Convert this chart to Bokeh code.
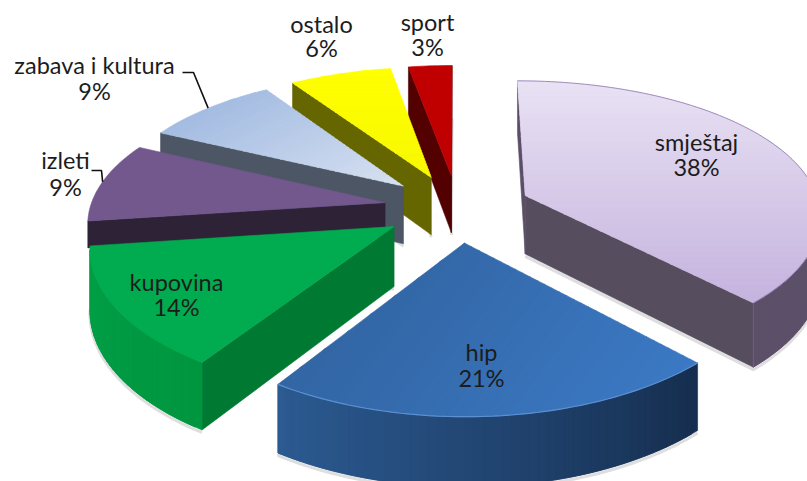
import math
from bokeh.plotting import figure
from bokeh.models import ColumnDataSource, Range1d
from bokeh.core.properties import value
from bokeh.embed import file_html
from bokeh.resources import INLINE

# ---- data (shares; labels show them rounded)
CATEGORIES = ["smještaj", "hip", "kupovina", "izleti", "zabava i kultura", "ostalo", "sport"]
SHARES = [38, 21.3, 13.7, 9.4, 8.6, 6.45, 2.75]

# ---- projection of the exploded 3-D pie
CX, CY = 457.0, 207.5
RX, RY = 295.0, 135.6
PERSPECTIVE_X = 0.13
PERSPECTIVE_Y = 0.151
EXPLODE = 0.25
DEPTH = 59.0
STEP = 1.5

# top gradient (colour a, colour b, direction), wall colours (start, end), cut face colours (start edge, end edge)
STYLE = {
    "smještaj": dict(top=("#E9E2F4", "#C5B3DE", (0, 1)), wall=("#5C5069", "#5C5069"), cut=("#5A4F66", "#564D5E"), depth=1.0),
    "hip": dict(top=("#3265A3", "#3B79C4", (0.8, 0.6)), wall=("#162E4F", "#2C5B92"), cut=("#1A3560", "#1A3560"), depth=1.0),
    "kupovina": dict(top=("#00AC4F", "#00AC4F", (0, 1)), wall=("#00963F", "#00A048"), cut=("#007A33", "#007A33"), depth=1.0),
    "izleti": dict(top=("#72588D", "#72588D", (0, 1)), wall=("#4A3760", "#4A3760"), cut=("#2E2237", "#2E2237"), depth=0.45),
    "zabava i kultura": dict(top=("#A4BCE2", "#D7E1F1", (0.45, 0.9)), wall=("#4D5766", "#4D5766"), cut=("#4C5665", "#5B6068"), depth=1.0),
    "ostalo": dict(top=("#FFFF00", "#F8F800", (0, 1)), wall=("#666600", "#666600"), cut=("#666600", "#666600"), depth=1.0),
    "sport": dict(top=("#C00000", "#C00000", (0, 1)), wall=("#520000", "#520000"), cut=("#520000", "#520000"), depth=1.0),
}
# label centres (x, y of first line, y of second line)
LABEL_AT = {
    "smještaj": (696, 141, 166),
    "hip": (481, 351, 377),
    "kupovina": (176, 281, 306),
    "izleti": (65, 159, 186),
    "zabava i kultura": (94, 64, 90),
    "ostalo": (321, 23, 47),
    "sport": (427, 21, 46),
}
LEADERS = {"zabava i kultura": (182, 193), "izleti": (91, 101)}
LEADER_Y = {"zabava i kultura": 72, "izleti": 170}
FONT = "Lato"
FONT_SIZE = "23.5px"
TEXT_COLOR = "#1C1C1C"


def project(X, Y, z=0.0):
    px = 1.0 / (1.0 + PERSPECTIVE_X * Y)
    py = 1.0 / (1.0 + PERSPECTIVE_Y * Y)
    return CX + RX * X * px, CY - RY * Y * py + DEPTH * z * px


def hex2rgb(c):
    return tuple(int(c[i:i + 2], 16) for i in (1, 3, 5))


def mix(c0, c1, t):
    a, b = hex2rgb(c0), hex2rgb(c1)
    return "#%02X%02X%02X" % tuple(round(a[i] + (b[i] - a[i]) * t) for i in range(3))


def clip(poly, d, t0, keep_above):
    out = []
    n = len(poly)
    for i in range(n):
        a, b = poly[i], poly[(i + 1) % n]
        fa = a[0] * d[0] + a[1] * d[1] - t0
        fb = b[0] * d[0] + b[1] * d[1] - t0
        if not keep_above:
            fa, fb = -fa, -fb
        if fa >= 0:
            out.append(a)
        if (fa >= 0) != (fb >= 0):
            s = fa / (fa - fb)
            out.append((a[0] + (b[0] - a[0]) * s, a[1] + (b[1] - a[1]) * s))
    return out


xs, ys, fills = [], [], []
shadow_x, shadow_y = [], []
hi_x, hi_y, hi_c, hi_w = [], [], [], []


def add_patch(poly, color):
    xs.append([q[0] for q in poly])
    ys.append([q[1] for q in poly])
    fills.append(color)


def add_gradient(poly, c0, c1, d, bands=40):
    norm = math.hypot(*d)
    d = (d[0] / norm, d[1] / norm)
    ts = [q[0] * d[0] + q[1] * d[1] for q in poly]
    lo, hi = min(ts), max(ts)
    if c0 == c1:
        add_patch(poly, c0)
        return
    for i in range(bands):
        a = lo + (hi - lo) * i / bands
        b = lo + (hi - lo) * (i + 1) / bands
        piece = clip(clip(poly, d, a - 0.4, True), d, b + 0.4, False)
        if len(piece) >= 3:
            add_patch(piece, mix(c0, c1, (i + 0.5) / bands))


# ---- build slices from the shares
total = sum(SHARES)
angles = []
acc = 0.0
for v in SHARES:
    angles.append((acc * 360 / total, (acc + v) * 360 / total))
    acc += v

geom = {}
for name, (a0, a1) in zip(CATEGORIES, angles):
    m = math.radians((a0 + a1) / 2)
    geom[name] = (a0, a1, EXPLODE * math.sin(m), EXPLODE * math.cos(m))


def rim(name, deg):
    _, _, ox, oy = geom[name]
    t = math.radians(deg)
    return ox + math.sin(t), oy + math.cos(t)


# painter's order: back slices first
ORDER = ["sport", "ostalo", "zabava i kultura", "izleti", "kupovina", "hip", "smještaj"]
for name in ORDER:
    a0, a1, ox, oy = geom[name]
    st = STYLE[name]
    dz = st["depth"]
    n = max(2, int((a1 - a0) / STEP))
    deg = [a0 + (a1 - a0) * i / n for i in range(n + 1)]
    pts = [rim(name, d) for d in deg]
    top = [project(ox, oy)] + [project(*q) for q in pts]
    apex_t, apex_b = project(ox, oy), project(ox, oy, dz)

    # soft shadow along the lower edge of the solid
    bottom = [project(*q, dz) for q in pts]
    if dz == 1.0:
        shadow_x.append([q[0] for q in bottom] + [apex_b[0]])
        shadow_y.append([q[1] + 2.5 for q in bottom] + [apex_b[1] + 2.5])

    # start cut face
    r0_t, r0_b = project(*pts[0]), project(*pts[0], dz)
    if r0_t[0] < apex_t[0]:
        add_patch([apex_t, r0_t, r0_b, apex_b], st["cut"][0])
    # end cut face
    r1_t, r1_b = project(*pts[-1]), project(*pts[-1], dz)
    if apex_t[0] < r1_t[0]:
        add_patch([r1_t, apex_t, apex_b, r1_b], st["cut"][1])
    # outer wall: each piece reaches over the next one so that no seams show
    for i in range(n):
        j = min(i + 2, n)
        q0, q1 = project(*pts[i]), project(*pts[i + 1])
        if q1[0] < q0[0]:
            q2 = project(*pts[j])
            if q2[0] > q1[0]:
                q2 = q1
                j = i + 1
            b0, b2 = project(*pts[i], dz), project(*pts[j], dz)
            add_patch([q0, q2, b2, b0], mix(st["wall"][0], st["wall"][1], i / n))
    # top face
    add_gradient(top, st["top"][0], st["top"][1], st["top"][2])

    if name == "hip":
        hi_x.append([project(*q)[0] for q in pts])
        hi_y.append([project(*q)[1] for q in pts])
        hi_c.append("#5C90D2")
        hi_w.append(1.2)
    if name == "smještaj":
        hi_x.append([project(*q)[0] for q in pts])
        hi_y.append([project(*q)[1] for q in pts])
        hi_c.append("#8D75AE")
        hi_w.append(0.8)
        hi_x.append([r1_t[0], r1_b[0]])
        hi_y.append([r1_t[1], r1_b[1]])
        hi_c.append("#7A60A0")
        hi_w.append(0.8)

p = figure(width=807, height=481, output_backend="svg", toolbar_location=None,
           x_range=Range1d(0, 807), y_range=Range1d(481, 0), min_border=0,
           outline_line_color=None, background_fill_color="white", border_fill_color="white")
p.axis.visible = False
p.grid.visible = False

p.multi_line(shadow_x, shadow_y, line_color="#B5B5B5", line_width=3, line_alpha=0.45)
p.patches("xs", "ys", source=ColumnDataSource(dict(xs=xs, ys=ys, c=fills)),
          fill_color="c", line_color="c", line_width=0.6)
p.multi_line("xs", "ys", source=ColumnDataSource(dict(xs=hi_x, ys=hi_y, c=hi_c, w=hi_w)),
             line_color="c", line_width="w")

# leader lines run to the rim at the slice's middle angle
for name, (x0, x1) in LEADERS.items():
    a0, a1, _, _ = geom[name]
    ex, ey = project(*rim(name, (a0 + a1) / 2))
    y = LEADER_Y[name]
    p.line([x0, x1, ex], [y, y, ey], line_color="#111111", line_width=1.6)

tx, ty, tt = [], [], []
for name, v in zip(CATEGORIES, SHARES):
    x, y0, y1 = LABEL_AT[name]
    tx += [x, x]
    ty += [y0, y1]
    tt += [name, f"{round(v)}%"]
p.text(tx, ty, text=tt, text_align="center", text_baseline="middle",
       text_font=value(FONT), text_font_size=FONT_SIZE, text_color=TEXT_COLOR)

open("out.html", "w").write(file_html(p, INLINE))
